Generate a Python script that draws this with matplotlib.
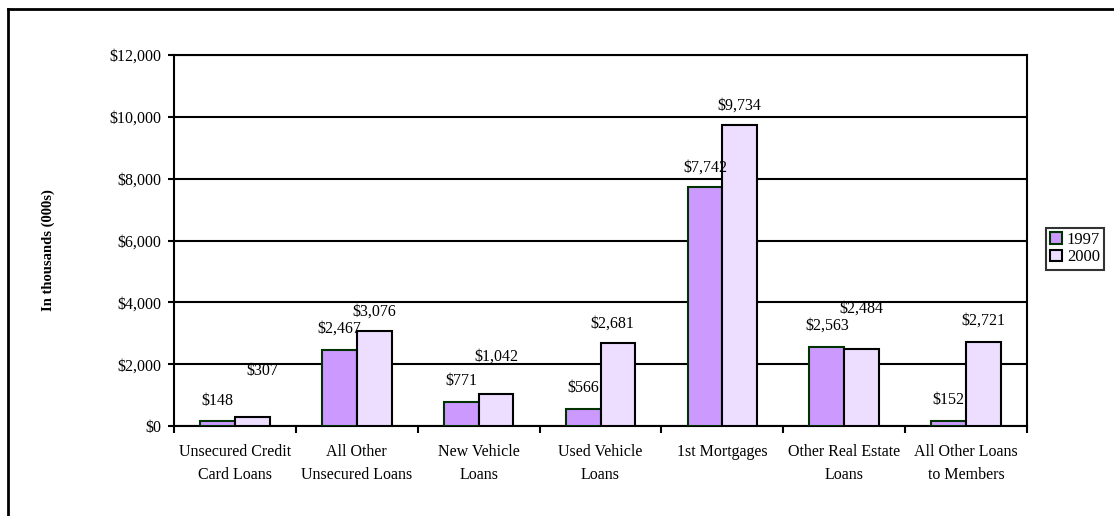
import matplotlib
matplotlib.use("Agg")
import matplotlib.pyplot as plt
import numpy as np
from matplotlib.lines import Line2D
from matplotlib.patches import Patch

plt.rcParams['font.family'] = ['Liberation Serif', 'DejaVu Serif']

categories = ["Unsecured Credit\nCard Loans", "All Other\nUnsecured Loans",
              "New Vehicle\nLoans", "Used Vehicle\nLoans", "1st Mortgages",
              "Other Real Estate\nLoans", "All Other Loans\nto Members"]
values_1997 = [148, 2467, 771, 566, 7742, 2563, 152]
values_2000 = [307, 3076, 1042, 2681, 9734, 2484, 2721]
series_names = ["1997", "2000"]
y_ticks = [0, 2000, 4000, 6000, 8000, 10000, 12000]

# label offsets in points (dx, dy) above each bar top
offsets_1997 = [(0, 15), (0, 15), (0, 15), (0, 15), (0, 14), (0, 15), (0, 15)]
offsets_2000 = [(7, 33), (0, 14), (0, 27), (-4, 14), (0, 14), (0, 29), (0, 15)]

fill_1997, edge_1997 = "#CC99FF", "#003300"
fill_2000, edge_2000 = "#EDDDFF", "#000000"

fig = plt.figure(figsize=(11.14, 5.16), dpi=100)
ax = fig.add_axes([174 / 1114, 1 - 426 / 516, (1027 - 174) / 1114, (426 - 55) / 516])

x = np.arange(len(categories))
w = 0.285
ax.bar(x - w / 2, values_1997, w, color=fill_1997, edgecolor=edge_1997, linewidth=1.5, zorder=3)
ax.bar(x + w / 2, values_2000, w, color=fill_2000, edgecolor=edge_2000, linewidth=1.5, zorder=3)

for xi, v, (dx, dy) in zip(x - w / 2, values_1997, offsets_1997):
    ax.annotate(f"${v:,}", (xi, v), xytext=(dx, dy), textcoords="offset points",
                ha="center", va="center", fontsize=11.5)
for xi, v, (dx, dy) in zip(x + w / 2, values_2000, offsets_2000):
    ax.annotate(f"${v:,}", (xi, v), xytext=(dx, dy), textcoords="offset points",
                ha="center", va="center", fontsize=11.5)

ax.set_xlim(-0.5, len(categories) - 0.5)
ax.set_ylim(0, 12000)
ax.set_yticks(y_ticks)
ax.set_yticklabels([f"${t:,}" for t in y_ticks], fontsize=11.5)
ax.yaxis.grid(True, color="black", linewidth=1.5, zorder=0)
ax.set_axisbelow(True)

ax.set_xticks(np.arange(len(categories) + 1) - 0.5)
ax.set_xticklabels([])
ax.set_xticks(x, minor=True)
ax.set_xticklabels(categories, minor=True, fontsize=11.5, linespacing=1.55)
ax.tick_params(axis="x", which="major", direction="out", length=5, width=1.5)
ax.tick_params(axis="x", which="minor", length=0, pad=13)
ax.tick_params(axis="y", direction="out", length=4, width=1.5, pad=5)

for s in ax.spines.values():
    s.set_linewidth(1.5)

fig.text(48 / 1114, 1 - 250 / 516, "In thousands (000s)", rotation=90,
         ha="center", va="center", fontsize=10.5, fontweight="bold")

handles = [Patch(facecolor=fill_1997, edgecolor=edge_1997, linewidth=1.5),
           Patch(facecolor=fill_2000, edgecolor=edge_2000, linewidth=1.5)]
leg = fig.legend(handles, series_names, loc="center left",
                 bbox_to_anchor=(1046 / 1114, 1 - 248.5 / 516),
                 fontsize=12, frameon=True, fancybox=False, handlelength=0.7,
                 handleheight=0.7, handletextpad=0.3, borderpad=0.25,
                 labelspacing=0.1, borderaxespad=0)
leg.get_frame().set_edgecolor("black")
leg.get_frame().set_linewidth(1.5)

# outer chart frame (top and left edges)
fig.add_artist(Line2D([8 / 1114, 1.0], [1 - 9 / 516, 1 - 9 / 516], color="black",
                      linewidth=2, transform=fig.transFigure))
fig.add_artist(Line2D([8 / 1114, 8 / 1114], [1 - 9 / 516, 0], color="black",
                      linewidth=2, transform=fig.transFigure))

fig.savefig("out.png", dpi=100)
